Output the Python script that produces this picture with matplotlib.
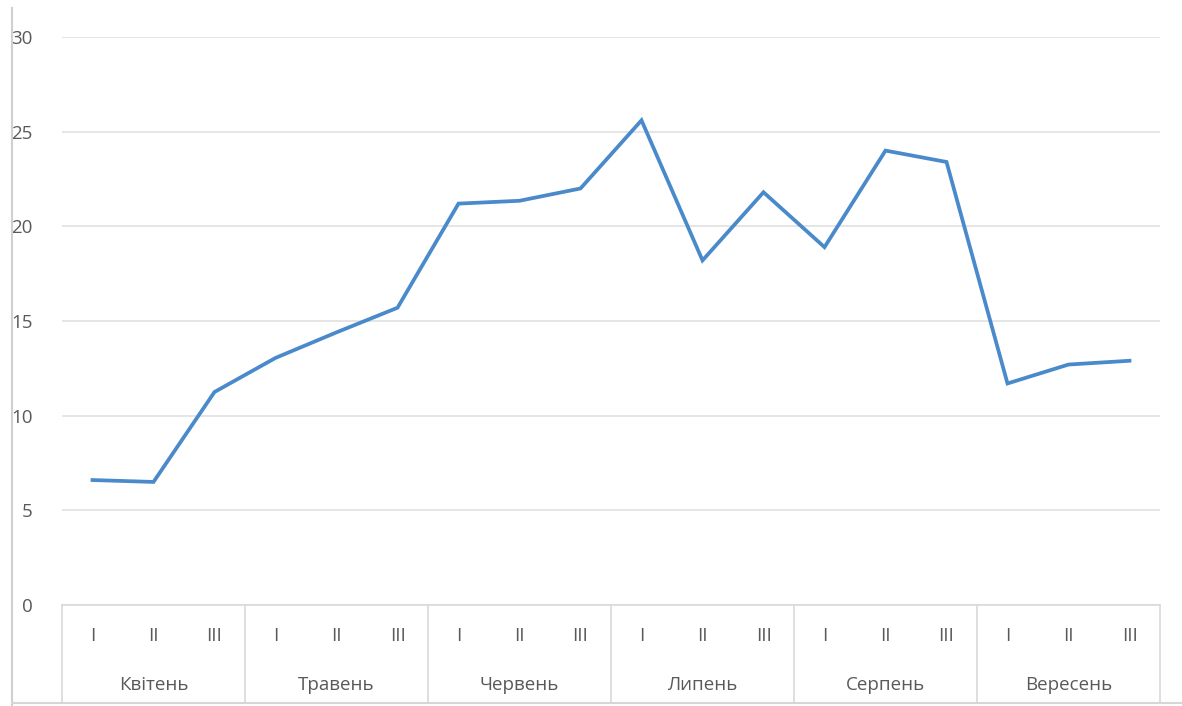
import matplotlib
matplotlib.use("Agg")
import matplotlib.pyplot as plt
from matplotlib.lines import Line2D
from matplotlib.transforms import blended_transform_factory

months = ["Квітень", "Травень", "Червень", "Липень", "Серпень", "Вересень"]
decades = ["I", "II", "III"]
values = [6.6, 6.5, 11.25, 13.05, 14.4, 15.7,
          21.2, 21.35, 22.0, 25.6, 18.2, 21.8,
          18.9, 24.0, 23.4, 11.7, 12.7, 12.9]
yticks = [0, 5, 10, 15, 20, 25, 30]

plt.rcParams['font.family'] = ['Open Sans', 'DejaVu Sans']

W, H = 1182, 706
fig = plt.figure(figsize=(W / 100, H / 100), dpi=100)
left, right, top, bottom = 62, 1160, 37, 605
ax = fig.add_axes([left / W, 1 - bottom / H, (right - left) / W, (bottom - top) / H])

n = len(values)
x = list(range(n))
ax.plot(x, values, color="#4a8acb", lw=2.7, solid_joinstyle="miter", zorder=3)

fs = 13.5
ax.set_xlim(-0.5, n - 0.5)
ax.set_ylim(0, 30)
ax.set_yticks(yticks)
ax.set_yticklabels([str(t) for t in yticks], fontsize=fs, color="#595959")
ax.tick_params(axis="y", length=0, pad=21)
ax.tick_params(axis="x", length=0, labelbottom=False)
ax.grid(axis="y", color="#dedede", lw=1.1)
ax.set_axisbelow(True)
for s in ["top", "right", "left"]:
    ax.spines[s].set_visible(False)
ax.spines["bottom"].set_color("#d9d9d9")
ax.spines["bottom"].set_linewidth(1.2)

trans = blended_transform_factory(ax.transData, ax.transAxes)
ax_h = bottom - top
def ay(py):
    return (bottom - py) / ax_h

for i in range(n):
    ax.text(i, ay(636), decades[i % 3], transform=trans, ha="center", va="center",
            fontsize=fs, color="#595959", clip_on=False)
for g, m in enumerate(months):
    ax.text(g * 3 + 1, ay(685), m, transform=trans, ha="center", va="center",
            fontsize=fs, color="#595959", clip_on=False)
for g in range(len(months) + 1):
    ax.add_line(Line2D([g * 3 - 0.5, g * 3 - 0.5], [0, ay(702)], transform=trans,
                       color="#d9d9d9", lw=1.2, clip_on=False))

# chart frame lines
fig.add_artist(Line2D([12 / W, 12 / W], [0, 1 - 8 / H], color="#d0d0d0", lw=1.5))
fig.add_artist(Line2D([12 / W, 1], [1 - 703 / H, 1 - 703 / H], color="#d6d6d6", lw=1.5))

fig.savefig("out.png", dpi=100, facecolor="white")
